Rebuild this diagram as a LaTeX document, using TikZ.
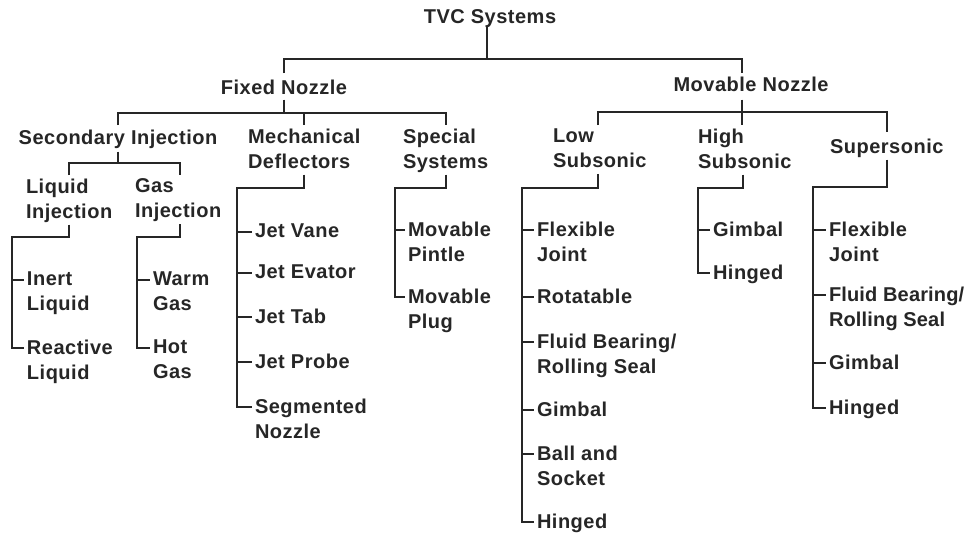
\documentclass[tikz,border=0pt]{standalone}
\usepackage{fontspec}
\newfontfamily\diagfamily{Liberation Sans}[LetterSpace=2.5]
\newfontfamily\diagtightfamily{Liberation Sans}[LetterSpace=0.8]
\newcommand\diagfont{\diagfamily\bfseries\fontsize{20}{25}\selectfont}
\newcommand\diagtightfont{\diagtightfamily\bfseries\fontsize{20}{25}\selectfont}
\definecolor{ink}{RGB}{38,38,38}
\begin{document}
\begin{tikzpicture}[x=1pt,y=-1pt,
  lbl/.style={inner sep=0pt, outer sep=0pt, font=\diagfont, text=ink, align=left},
  conn/.style={draw=ink, line width=1.9pt}]
\useasboundingbox[fill=white] (0,0) rectangle (966,533);
% ---- nodes ----
\node[lbl, anchor=north] (tvc) at (490,10) {TVC Systems};
\node[lbl, anchor=north] (fixed) at (284,80) {Fixed Nozzle};
\node[lbl, anchor=north] (movable) at (751,77) {Movable Nozzle};
\node[lbl, anchor=north] (secinj) at (118,130) {Secondary Injection};
\node[lbl, anchor=north west] (mech) at (248,129) {Mechanical\\Deflectors};
\node[lbl, anchor=north west] (special) at (403,129) {Special\\Systems};
\node[lbl, anchor=north west] (low) at (553,129) {Low\\Subsonic};
\node[lbl, anchor=north west] (high) at (698,129) {High\\Subsonic};
\node[lbl, anchor=north west] (super) at (830,139) {Supersonic};
\node[lbl, anchor=north west] (liqinj) at (26,179) {Liquid\\Injection};
\node[lbl, anchor=north west] (gasinj) at (135,179) {Gas\\Injection};
\node[lbl, anchor=north west] (inert) at (27,272) {Inert\\Liquid};
\node[lbl, anchor=north west] (reactive) at (27,340) {Reactive\\Liquid};
\node[lbl, anchor=north west] (warm) at (153,272) {Warm\\Gas};
\node[lbl, anchor=north west] (hot) at (153,340) {Hot\\Gas};
\node[lbl, anchor=north west] (vane) at (255,224) {Jet Vane};
\node[lbl, anchor=north west] (evator) at (255,265) {Jet Evator};
\node[lbl, anchor=north west] (tab) at (255,309) {Jet Tab};
\node[lbl, anchor=north west] (probe) at (255,354) {Jet Probe};
\node[lbl, anchor=north west] (segm) at (255,399) {Segmented\\Nozzle};
\node[lbl, anchor=north west] (pintle) at (408,222) {Movable\\Pintle};
\node[lbl, anchor=north west] (plug) at (408,289) {Movable\\Plug};
\node[lbl, anchor=north west] (lflex) at (537,222) {Flexible\\Joint};
\node[lbl, anchor=north west] (lrot) at (537,289) {Rotatable};
\node[lbl, anchor=north west] (lfluid) at (537,334) {Fluid Bearing/\\Rolling Seal};
\node[lbl, anchor=north west] (lgimbal) at (537,402) {Gimbal};
\node[lbl, anchor=north west] (lball) at (537,446) {Ball and\\Socket};
\node[lbl, anchor=north west] (lhinged) at (537,514) {Hinged};
\node[lbl, anchor=north west] (hgimbal) at (713,222) {Gimbal};
\node[lbl, anchor=north west] (hhinged) at (713,265) {Hinged};
\node[lbl, anchor=north west] (sflex) at (829,222) {Flexible\\Joint};
\node[lbl, anchor=north west, font=\diagtightfont] (sfluid) at (829,287) {Fluid Bearing/\\Rolling Seal};
\node[lbl, anchor=north west] (sgimbal) at (829,355) {Gimbal};
\node[lbl, anchor=north west] (shinged) at (829,400) {Hinged};
% ---- tick targets ----
\foreach \n in {inert,reactive,warm,hot,vane,evator,tab,probe,segm,pintle,plug,lflex,lrot,lfluid,lgimbal,lball,lhinged,hgimbal,hhinged,sflex,sfluid,sgimbal,shinged}
  \coordinate (\n-t) at ([shift={(-3pt,-8pt)}]\n.north west);
% ---- junctions ----
\coordinate (barA) at (0,59);
\coordinate (barB) at (0,113);
\coordinate (barC) at (0,112);
\coordinate (barD) at (0,163);
\coordinate (liqv) at (12,237);
\coordinate (gasv) at (137,237);
\coordinate (mechv) at (237,188);
\coordinate (specv) at (395,188);
\coordinate (lowv) at (522,188);
\coordinate (highv) at (698,188);
\coordinate (superv) at (813,187);
\coordinate (tvcb) at ([xshift=-3pt,yshift=2pt]tvc.south);
\coordinate (movt) at ([xshift=-9pt,yshift=4pt]movable.north);
\coordinate (movb) at ([xshift=-9pt,yshift=-8pt]movable.south);
\coordinate (hight) at ([yshift=4pt]high.north);
\coordinate (lowt) at ([xshift=-2pt,yshift=4pt]low.north);
\coordinate (supert) at ([yshift=7pt]super.north);
\coordinate (gast) at ([xshift=2pt,yshift=4pt]gasinj.north);
% ---- connectors ----
\draw[conn] (tvcb) -- (tvcb |- barA);
\draw[conn] ([yshift=7pt]fixed.north) -- (fixed.north |- barA) -- (movt |- barA) -- (movt);
\draw[conn] ([yshift=-5pt]fixed.south) -- (fixed.south |- barB);
\draw[conn] ([yshift=5pt]secinj.north) -- (secinj.north |- barB) -- (special.north |- barB) -- ([yshift=4pt]special.north);
\draw[conn] (mech.north |- barB) -- ([yshift=4pt]mech.north);
\draw[conn] (movb) -- (movb |- hight);
\draw[conn] (lowt) -- (lowt |- barC) -- (supert |- barC) -- (supert);
\draw[conn] ([yshift=-3pt]secinj.south) -- (secinj.south |- barD);
\draw[conn] ([yshift=4pt]liqinj.north) -- (liqinj.north |- barD) -- (gast |- barD) -- (gast);
\draw[conn] ([yshift=-2pt]liqinj.south) |- (liqv) |- (reactive-t);
\draw[conn] (liqv |- inert-t) -- (inert-t);
\draw[conn] ([xshift=2pt,yshift=-2pt]gasinj.south) |- (gasv) |- (hot-t);
\draw[conn] (gasv |- warm-t) -- (warm-t);
\draw[conn] ([yshift=-6pt]mech.south) |- (mechv) |- (segm-t);
\foreach \n in {vane,evator,tab,probe} \draw[conn] (mechv |- \n-t) -- (\n-t);
\draw[conn] ([yshift=-2pt]special.south) |- (specv) |- (plug-t);
\draw[conn] (specv |- pintle-t) -- (pintle-t);
\draw[conn] ([xshift=-2pt,yshift=-6pt]low.south) |- (lowv) |- (lhinged-t);
\foreach \n in {lflex,lrot,lfluid,lgimbal,lball} \draw[conn] (lowv |- \n-t) -- (\n-t);
\draw[conn] ([xshift=-2pt,yshift=-6pt]high.south) |- (highv) |- (hhinged-t);
\draw[conn] (highv |- hgimbal-t) -- (hgimbal-t);
\draw[conn] ([yshift=-2pt]super.south) |- (superv) |- (shinged-t);
\foreach \n in {sflex,sfluid,sgimbal} \draw[conn] (superv |- \n-t) -- (\n-t);
\end{tikzpicture}
\end{document}
